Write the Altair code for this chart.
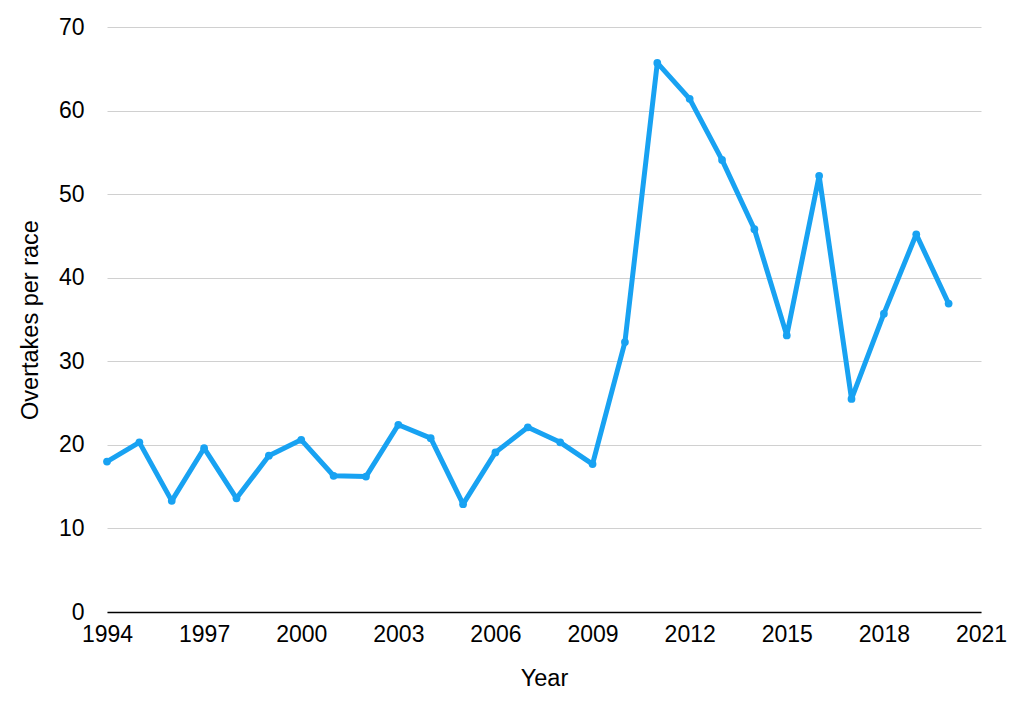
import altair as alt
import pandas as pd

years = list(range(1994, 2021))
overtakes = [18.0, 20.3, 13.3, 19.6, 13.6, 18.7, 20.6, 16.3, 16.2, 22.4,
             20.8, 12.9, 19.1, 22.1, 20.3, 17.7, 32.3, 65.7, 61.4, 54.1,
             45.8, 33.1, 52.2, 25.5, 35.7, 45.2, 36.9]
x_ticks = [1994, 1997, 2000, 2003, 2006, 2009, 2012, 2015, 2018, 2021]
y_ticks = [0, 10, 20, 30, 40, 50, 60, 70]

df = pd.DataFrame({"Year": years, "Overtakes": overtakes})

FONT = "Liberation Sans"
COLOR = "#18a2f2"

base = alt.Chart(df).encode(
    x=alt.X("Year:Q",
            scale=alt.Scale(domain=[1994, 2021], nice=False, zero=False),
            axis=alt.Axis(values=x_ticks, format="d", title="Year",
                          grid=False, ticks=False, domain=True,
                          domainColor="#000000", domainWidth=1.5,
                          labelPadding=11, titlePadding=20,
                          labelFlush=False)),
    y=alt.Y("Overtakes:Q",
            scale=alt.Scale(domain=[0, 70], nice=False),
            axis=alt.Axis(values=y_ticks, title="Overtakes per race",
                          grid=True, gridColor="#d0d0d0", gridWidth=1,
                          ticks=False, domain=False,
                          labelPadding=23, titlePadding=16)),
)

line = base.mark_line(color=COLOR, strokeWidth=5, strokeJoin="round")
pts = base.mark_circle(color=COLOR, size=60, opacity=1)

chart = (line + pts).properties(
    width=874, height=585,
    autosize=alt.AutoSizeParams(type="none"),
    padding={"left": 99, "top": 19, "right": 35, "bottom": 100},
).configure_view(stroke=None).configure_axis(
    labelFont=FONT, titleFont=FONT, labelFontSize=23, titleFontSize=23.5,
    labelColor="#000000", titleColor="#000000", titleFontWeight="normal",
)

chart.save("out.html", embed_options={"renderer": "svg", "actions": False})
